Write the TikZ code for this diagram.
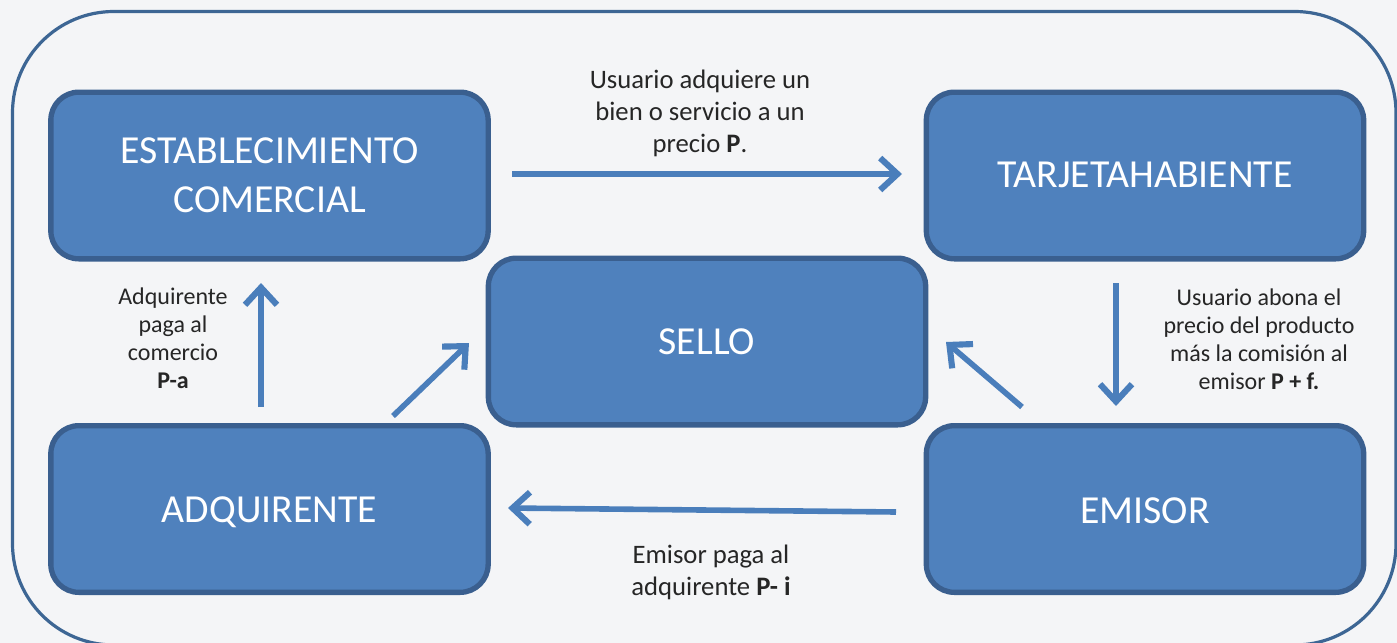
\documentclass[tikz,border=0pt]{standalone}
\usepackage{fontspec}
\setmainfont{Carlito}
\usetikzlibrary{arrows.meta}
\definecolor{bgc}{HTML}{F4F5F7}
\definecolor{boxfill}{HTML}{4F81BD}
\definecolor{boxline}{HTML}{3A5F8F}
\definecolor{outerline}{HTML}{3D6694}
\definecolor{arrowc}{HTML}{4A7EBB}
\newcommand{\nudge}[2]{\raisebox{#1}[\height][\depth]{#2}}
\tikzset{
 x=0.75pt,y=-0.75pt,
 boxnode/.style={draw=boxline,fill=boxfill,line width=4pt,rounded corners=21pt,
   minimum width=328pt,minimum height=125pt,inner sep=0pt,text=white,align=center,
   font=\fontsize{29.8}{36.5}\selectfont},
 flow/.style={draw=arrowc,line width=4.2pt,-{Straight Barb[length=13pt,width=24pt,line width=4.6pt]}},
 lab/.style={text=black!85,align=center,inner sep=0pt},
 labbig/.style={lab,font=\fontsize{20}{24}\selectfont},
 labsmall/.style={lab,font=\fontsize{18}{21}\selectfont},
}
\begin{document}
\begin{tikzpicture}
\useasboundingbox (0,0) rectangle (1397,643);
\fill[bgc] (0,0) rectangle (1397,643);
\draw[outerline,line width=2.4pt,rounded corners=76pt] (12.5,11.5) rectangle (1396,645);
\node[boxnode] (est) at (269.5,175.5) {ESTABLECIMIENTO\\COMERCIAL};
\node[boxnode] (tar) at (1145,175.5) {\nudge{0.7pt}{TARJETAHABIENTE}};
\node[boxnode] (sel) at (707,341.5) {SELLO};
\node[boxnode] (adq) at (269.5,509) {\nudge{-2.2pt}{ADQUIRENTE}};
\node[boxnode] (emi) at (1145,509) {\nudge{-1.5pt}{EMISOR}};
\coordinate (a1s) at (512,174); \coordinate (a1e) at (902,174);
\coordinate (a2s) at (1116,283); \coordinate (a2e) at (1116,406);
\coordinate (a3s) at (896,512); \coordinate (a3e) at (508,508);
\coordinate (a4s) at (261,407); \coordinate (a4e) at (261,283);
\coordinate (a5s) at (393,416); \coordinate (a5e) at (469,343);
\coordinate (a6s) at (1022,407); \coordinate (a6e) at (946,342);
\draw[flow] (a1s) -- (a1e);
\draw[flow] (a2s) -- (a2e);
\draw[flow] (a3s) -- (a3e);
\draw[flow] (a4s) -- (a4e);
\draw[flow] (a5s) -- (a5e);
\draw[flow] (a6s) -- (a6e);
\node[labbig] (l1) at (700,113) {Usuario adquiere un\\bien o servicio a un\\precio \textbf{P}.};
\node[labsmall] (l2) at (1259,339) {Usuario abona el\\precio del producto\\más la comisión al\\emisor \textbf{P + f.}};
\node[labbig] (l3) at (711,572) {Emisor paga al\\adquirente \textbf{P- i}};
\node[labsmall] (l4) at (173,338) {Adquirente\\paga al\\comercio\\\textbf{P-a}};
\end{tikzpicture}
\end{document}
